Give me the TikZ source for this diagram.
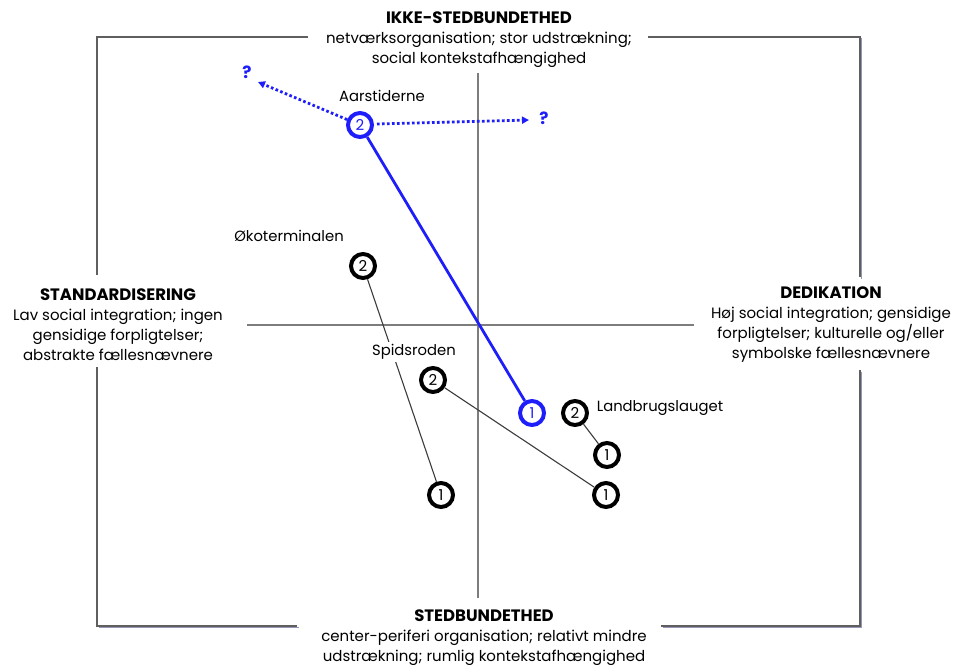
\documentclass[tikz,border=0pt]{standalone}
\usepackage{fontspec}
\setmainfont{Poppins}
\usetikzlibrary{arrows.meta}
\definecolor{myblue}{RGB}{30,30,250}
\definecolor{framegray}{RGB}{95,95,95}
\definecolor{frameshadow}{RGB}{150,150,185}
\definecolor{axisgray}{RGB}{125,125,125}
\definecolor{linkgray}{RGB}{60,60,60}
\newcommand{\hd}[1]{{\fontsize{16.5}{20}\selectfont\bfseries #1}}
\begin{document}
\begin{tikzpicture}[x=1pt,y=-1pt,
  every node/.style={inner sep=0pt},
  txt/.style={font=\fontsize{15}{20}\selectfont, align=center},
  caseb/.style={font=\fontsize{14.8}{15}\selectfont},
  circ/.style={circle, draw=black, line width=4pt, minimum size=24pt, font=\fontsize{15}{15}\selectfont},
  bcirc/.style={circ, draw=myblue, text=myblue},
  framel/.style={draw=framegray, line width=1.3pt},
  shadowl/.style={draw=frameshadow, line width=1.3pt},
  axis/.style={draw=axisgray, line width=1.2pt},
  link/.style={draw=linkgray, line width=1.1pt},
  blink/.style={draw=myblue, line width=2.8pt},
  dotl/.style={draw=myblue, line width=2.8pt, dash pattern=on 2.6pt off 2.4pt, -{Triangle[length=7pt,width=7pt]}},
  qm/.style={text=myblue, font=\fontsize{17}{17}\selectfont\bfseries}
]
\useasboundingbox (0,0) rectangle (963,666);
% frame shadow
\begin{scope}[shift={(1.5,1.5)}]
\draw[shadowl] (860,37) -- (860,277);
\draw[shadowl] (860,370) -- (860,626) -- (661,626);
\draw[shadowl] (297,626) -- (97,626);
\end{scope}
% frame
\draw[framel] (308,37) -- (97,37) -- (97,275);
\draw[framel] (97,367) -- (97,626) -- (297,626);
\draw[framel] (648,37) -- (860,37) -- (860,277);
\draw[framel] (860,370) -- (860,626) -- (661,626);
% axes
\draw[axis] (478,73) -- (478,598);
\draw[axis] (247,325) -- (694,325);
% axis labels
\node[txt] (top) at (479,40) {\hd{IKKE-STEDBUNDETHED}\\netværksorganisation; stor udstrækning;\\social kontekstafhængighed};
\node[txt] (left) at (118,325) {\hd{STANDARDISERING}\\Lav social integration; ingen\\gensidige forpligtelser;\\abstrakte fællesnævnere};
\node[txt] (right) at (831,325) {\hd{DEDIKATION}\\Høj social integration; gensidige\\forpligtelser; kulturelle og/eller\\symbolske fællesnævnere};
\node[txt] (bottom) at (484,638) {\hd{STEDBUNDETHED}\\center-periferi organisation; relativt mindre\\udstrækning; rumlig kontekstafhængighed};
% circles
\node[circ] (oko2) at (363,266) {2};
\node[circ] (oko1) at (441,495) {1};
\node[circ] (spi2) at (433,380) {2};
\node[circ] (spi1) at (606,495) {1};
\node[circ] (lan2) at (575,413) {2};
\node[circ] (lan1) at (607,455) {1};
\node[bcirc] (aar2) at (360,125) {2};
\node[bcirc] (aar1) at (532,413) {1};
% links
\draw[link] (oko2) -- (oko1);
\draw[link] (spi2) -- (spi1);
\draw[link] (lan2) -- (lan1);
\draw[blink] (aar2) -- (aar1);
% case labels
\node[caseb] (laar) at (382,96) {Aarstiderne};
\node[caseb] (loko) at (289,236) {Økoterminalen};
\node[caseb, fill=white, inner sep=2pt] (lspi) at (414,352) {Spidsroden};
\node[caseb] (llan) at (660,408) {Landbrugslauget};
% dotted arrows
\coordinate (qlend) at (258,82);
\coordinate (qrend) at (529,120);
\draw[dotl] (aar2) -- (qlend);
\draw[dotl] (aar2.east) ++(3,-1) coordinate (qrstart) -- (qrend);
\node[qm] (ql) at (247,72) {?};
\node[qm] (qr) at (544,118) {?};
\end{tikzpicture}
\end{document}
